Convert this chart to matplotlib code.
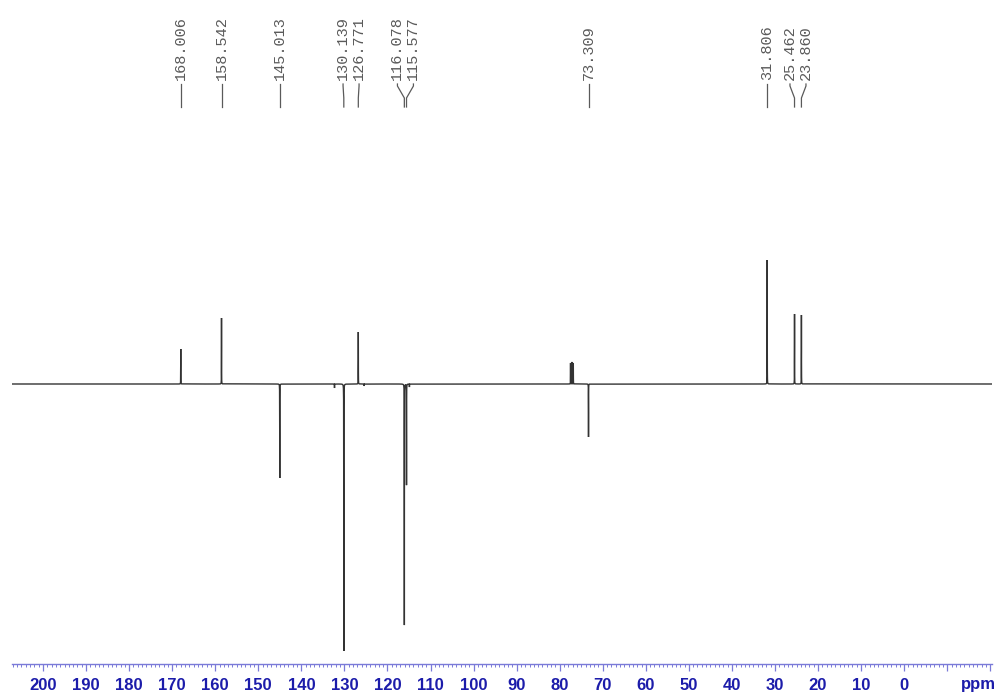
import numpy as np
import matplotlib
matplotlib.use("Agg")
import matplotlib.pyplot as plt
from matplotlib.ticker import MultipleLocator, FuncFormatter
import matplotlib.transforms as mtransforms

# ---------------- data ----------------
peak_ppm = [168.006, 158.542, 145.013, 130.139, 126.771, 116.078, 115.577,
            73.309, 31.806, 25.462, 23.860]
peak_int = [35, 66, -94, -267, 52, -241, -101, -53, 124, 70, 69]
peak_labels = ["168.006", "158.542", "145.013", "130.139", "126.771",
               "116.078", "115.577", "73.309", "31.806", "25.462", "23.860"]
# unlabelled solvent triplet (CDCl3) and tiny artefacts
solvent_ppm = [77.48, 77.16, 76.84]
solvent_int = [21, 22, 21]
minor_ppm = [132.3, 114.9, 125.4]
minor_int = [-4, -3, -2]

tick_values = list(range(200, -1, -10))

# ---------------- figure / layout ----------------
W, H = 998, 697
fig = plt.figure(figsize=(W / 100, H / 100), dpi=100)
ax_top_px, ax_bot_px, left_px, right_px = 110, 664, 12, 992
base_px = 384
ax = fig.add_axes([left_px / W, 1 - ax_bot_px / H,
                   (right_px - left_px) / W, (ax_bot_px - ax_top_px) / H])
xmax, xmin = 207.2, -20.4
ax.set_xlim(xmax, xmin)
ax.set_ylim(-(ax_bot_px - base_px), base_px - ax_top_px)

# ---------------- spectrum ----------------
all_ppm = peak_ppm + solvent_ppm + minor_ppm
all_int = peak_int + solvent_int + minor_int
x = np.union1d(np.arange(xmin, xmax, 0.004), np.array(all_ppm))
y = np.zeros_like(x)
hw = 0.012
for p, h in zip(all_ppm, all_int):
    y += h * hw ** 2 / ((x - p) ** 2 + hw ** 2)
ax.plot(x, y, color="#333333", lw=1.0, solid_joinstyle="miter")

# ---------------- axis styling ----------------
for s in ("top", "left", "right"):
    ax.spines[s].set_visible(False)
axis_col = "#7a7ad8"
ax.spines["bottom"].set_color(axis_col)
ax.spines["bottom"].set_linewidth(1.0)
ax.set_yticks([])
ax.xaxis.set_major_locator(MultipleLocator(10))
ax.xaxis.set_minor_locator(MultipleLocator(1))


def fmt(v, pos):
    iv = int(round(v))
    return str(iv) if iv in tick_values else ""


ax.xaxis.set_major_formatter(FuncFormatter(fmt))
ax.tick_params(axis="x", which="major", length=5, width=0.9, color=axis_col,
               labelcolor="#1c1caa", labelsize=12, pad=5)
ax.tick_params(axis="x", which="minor", length=2.5, width=0.7, color=axis_col)
for lab in ax.get_xticklabels():
    lab.set_fontfamily("Liberation Sans")
    lab.set_fontweight("bold")

blend = mtransforms.blended_transform_factory(ax.transData, fig.transFigure)
ax.text(-17.2, 1 - 685 / H, "ppm", transform=blend, ha="center", va="center",
        color="#1c1caa", fontsize=12, fontweight="bold",
        family="Liberation Sans", clip_on=False)

# ---------------- peak labels ----------------
ppm_per_px = (xmax - xmin) / (right_px - left_px)
gap = 16 * ppm_per_px
order = sorted(range(len(peak_ppm)), key=lambda i: -peak_ppm[i])
groups, cur = [], [order[0]]
for i in order[1:]:
    if peak_ppm[cur[-1]] - peak_ppm[i] < gap:
        cur.append(i)
    else:
        groups.append(cur)
        cur = [i]
groups.append(cur)
label_pos = {}
for g in groups:
    m = np.mean([peak_ppm[i] for i in g])
    n = len(g)
    for k, i in enumerate(g):
        label_pos[i] = m + gap * ((n - 1) / 2 - k)

txt_bottom, y1, y2, y3 = 80, 84, 98, 107
fy = lambda p: 1 - p / H
for i in range(len(peak_ppm)):
    lx, px = label_pos[i], peak_ppm[i]
    ax.text(lx, fy(txt_bottom), peak_labels[i], transform=blend, rotation=90,
            ha="center", va="bottom", family="Liberation Mono", fontsize=11,
            color="#5a5a5a", clip_on=False)
    ax.plot([lx, lx, px, px], [fy(y1), fy(y1 + 2), fy(y2), fy(y3)],
            transform=blend, color="#5a5a5a", lw=0.9, clip_on=False)

fig.savefig("out.png", dpi=100)
